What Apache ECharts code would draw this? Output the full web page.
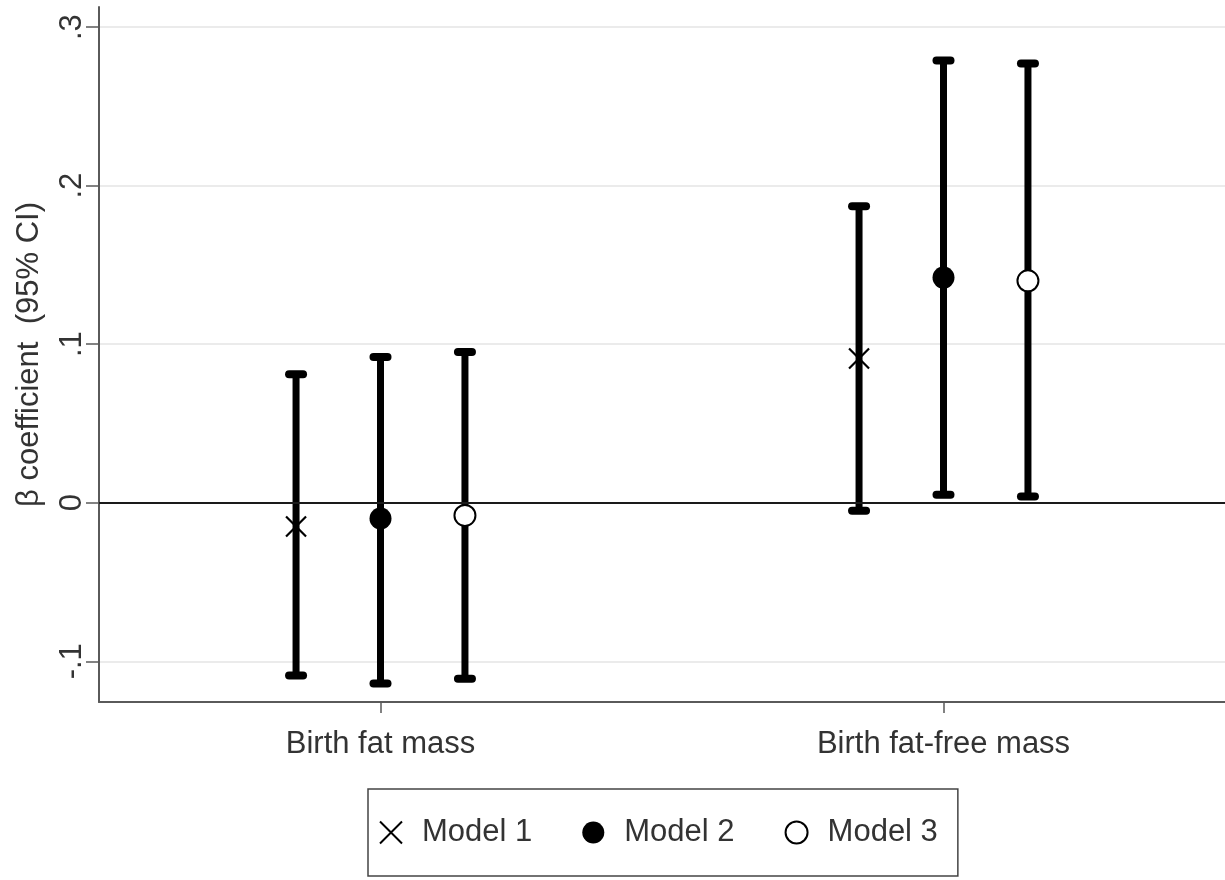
<!DOCTYPE html>
<html><head><meta charset="utf-8">
<script src="https://cdn.jsdelivr.net/npm/echarts@6/dist/echarts.min.js"></script>
<style>html,body{margin:0;padding:0;background:#fff}#c{width:1225px;height:880px}</style>
</head><body><div id="c"></div>
<script>
// ---- data ----
const categories = ['Birth fat mass', 'Birth fat-free mass'];
const modelNames = ['Model 1', 'Model 2', 'Model 3'];
const model1Est = [-0.015, 0.091];
const model1Lo  = [-0.109, -0.005];
const model1Hi  = [0.081, 0.187];
const model2Est = [-0.010, 0.142];
const model2Lo  = [-0.114, 0.005];
const model2Hi  = [0.092, 0.279];
const model3Est = [-0.008, 0.140];
const model3Lo  = [-0.111, 0.004];
const model3Hi  = [0.095, 0.277];
const modelOffsets = [-0.15, 0, 0.15];
const yTickValues = [-0.1, 0, 0.1, 0.2, 0.3];
const yTickLabels = ['-.1', '0', '.1', '.2', '.3'];
const xTickValues = [1, 2];
const refLineValue = 0;
const yMin = -0.1257, yMax = 0.3127;
const xMin = 0.5, xMax = 2.5;

const models = [
  {name: modelNames[0], est: model1Est, lo: model1Lo, hi: model1Hi},
  {name: modelNames[1], est: model2Est, lo: model2Lo, hi: model2Hi},
  {name: modelNames[2], est: model3Est, lo: model3Lo, hi: model3Hi}
];

const FONT = 'Liberation Sans, Arial, Helvetica, sans-serif';
const TEXT = '#333';
const AXIS = '#5a5a5a';

const symbols = [
  {symbol: 'path://M0,0L20,20M20,0L0,20', size: 20, style: {color: '#000', borderColor: '#000', borderWidth: 2.2, opacity: 1}},
  {symbol: 'circle', size: 22, style: {color: '#000', borderWidth: 0, opacity: 1}},
  {symbol: 'circle', size: 21, style: {color: '#fff', borderColor: '#000', borderWidth: 2, opacity: 1}}
];

const errData = [];
models.forEach((m, mi) => {
  categories.forEach((c, ci) => {
    errData.push([ci + 1 + modelOffsets[mi], m.lo[ci], m.hi[ci]]);
  });
});

function errRender(params, api) {
  const x = api.value(0), lo = api.value(1), hi = api.value(2);
  const pLo = api.coord([x, lo]), pHi = api.coord([x, hi]);
  const cap = 7;
  return {type: 'group', children: [
    {type: 'line', shape: {x1: pLo[0], y1: pLo[1], x2: pHi[0], y2: pHi[1]}, style: {stroke: '#000', lineWidth: 7}},
    {type: 'line', shape: {x1: pLo[0] - cap, y1: pLo[1], x2: pLo[0] + cap, y2: pLo[1]}, style: {stroke: '#000', lineWidth: 8, lineCap: 'round'}},
    {type: 'line', shape: {x1: pHi[0] - cap, y1: pHi[1], x2: pHi[0] + cap, y2: pHi[1]}, style: {stroke: '#000', lineWidth: 8, lineCap: 'round'}}
  ]};
}

function yLabel(v) {
  for (let i = 0; i < yTickValues.length; i++) if (Math.abs(yTickValues[i] - v) < 1e-6) return yTickLabels[i];
  return '';
}
function xLabel(v) {
  const i = xTickValues.findIndex(t => Math.abs(t - v) < 1e-6);
  return i >= 0 ? categories[i] : '';
}

const series = [
  {
    type: 'custom', name: 'CI', renderItem: errRender, data: errData, z: 3,
    encode: {x: 0, y: [1, 2]}, silent: true,
    markLine: {
      silent: true, symbol: 'none', label: {show: false},
      lineStyle: {color: '#1a1a1a', width: 2, type: 'solid'},
      data: [{yAxis: refLineValue}]
    }
  }
];
models.forEach((m, mi) => {
  series.push({
    type: 'scatter', name: m.name, z: 5,
    symbol: symbols[mi].symbol, symbolSize: symbols[mi].size, symbolKeepAspect: true,
    itemStyle: symbols[mi].style,
    emphasis: {disabled: true},
    data: categories.map((c, ci) => [ci + 1 + modelOffsets[mi], m.est[ci]])
  });
});

const chart = echarts.init(document.getElementById('c'), null, {renderer: 'canvas'});
chart.setOption({
  animation: false,
  backgroundColor: '#fff',
  grid: {left: 99, right: 0, top: 7, bottom: 178, containLabel: false},
  xAxis: {
    type: 'value', min: xMin, max: xMax,
    axisLine: {show: true, onZero: false, lineStyle: {color: AXIS, width: 2}},
    axisTick: {show: true, length: 11, customValues: xTickValues, lineStyle: {color: AXIS, width: 1.5}},
    axisLabel: {customValues: xTickValues, formatter: xLabel, margin: 27, fontSize: 31, color: TEXT, fontFamily: FONT},
    splitLine: {show: false}
  },
  yAxis: {
    type: 'value', min: yMin, max: yMax,
    name: 'β coefficient  (95% CI)', nameLocation: 'middle', nameGap: 54, nameRotate: 90,
    nameTextStyle: {fontSize: 31, color: TEXT, fontFamily: FONT},
    axisLine: {show: true, lineStyle: {color: AXIS, width: 2}},
    axisTick: {show: true, length: 13, customValues: yTickValues, lineStyle: {color: AXIS, width: 1.5}},
    axisLabel: {customValues: yTickValues, formatter: yLabel, rotate: 90, margin: 11, fontSize: 31, color: TEXT, fontFamily: FONT},
    splitLine: {show: true, lineStyle: {color: '#ebebeb', width: 2}}
  },
  legend: {
    data: modelNames, left: 368, top: 789, orient: 'horizontal',
    padding: [28, 20, 28, 11], itemGap: 50, itemWidth: 24, itemHeight: 22,
    borderColor: '#444', borderWidth: 1.5,
    textStyle: {fontSize: 31, color: TEXT, fontFamily: FONT, padding: [0, 0, 0, 14]}
  },
  series: series
});
</script></body></html>
